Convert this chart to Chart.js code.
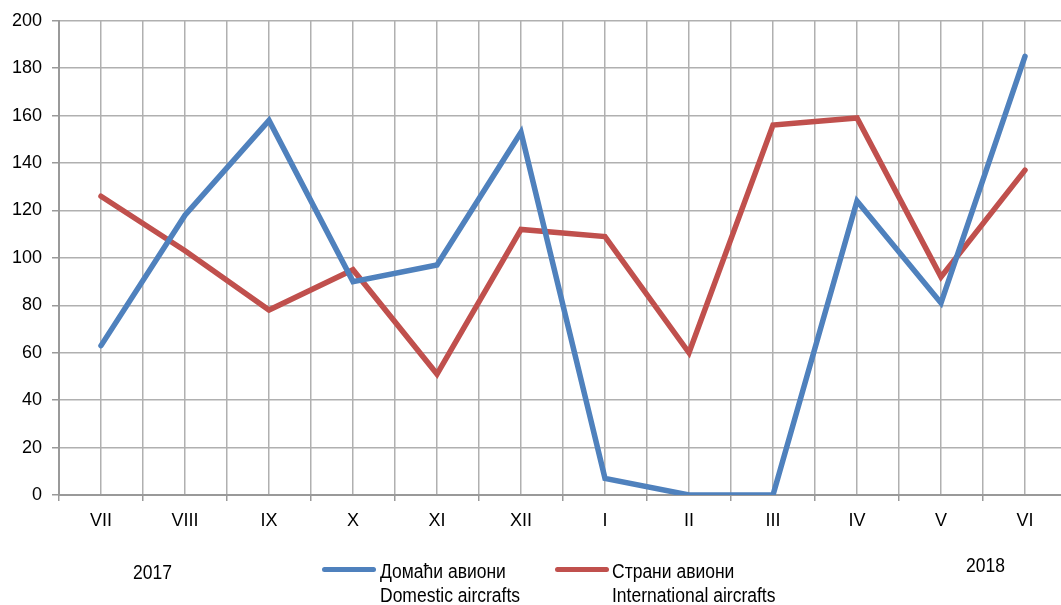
<!DOCTYPE html>
<html><head><meta charset="utf-8">
<script src="https://cdn.jsdelivr.net/npm/chart.js@4.4.0/dist/chart.umd.min.js"></script>
<style>
html,body{margin:0;padding:0;background:#fff;overflow:hidden;width:1061px;height:605px}
#wrap{position:absolute;left:0;top:0;width:1075px;height:605px}
.t{position:absolute;font-family:"Liberation Sans",Arial,sans-serif;font-size:20px;color:#000;line-height:24px;white-space:nowrap;transform:scaleX(0.875);transform-origin:0 0}
.sw{position:absolute;height:5px;border-radius:3px}
</style></head><body>
<div id="wrap"><canvas id="c" width="1075" height="605"></canvas></div>
<div class="t" style="left:133px;top:560px">2017</div>
<div class="t" style="left:966px;top:553px">2018</div>
<div class="sw" style="left:322px;top:567px;width:54px;background:#4f81bd"></div>
<div class="t" style="left:380px;top:559px">Домаћи авиони<br>Domestic aircrafts</div>
<div class="sw" style="left:555px;top:567px;width:54px;background:#c0504d"></div>
<div class="t" style="left:612px;top:559px">Страни авиони<br>International aircrafts</div>
<script>
const categories = ["VII","VIII","IX","X","XI","XII","I","II","III","IV","V","VI"];
const domestic = [63,118,158,90,97,153,7,0,0,124,81,185];
const international = [126,103,78,95,51,112,109,60,156,159,92,137];
const yTicks = [0,20,40,60,80,100,120,140,160,180,200];
const FONT = "'Liberation Sans',Arial,sans-serif";

new Chart(document.getElementById('c'), {
  type: 'line',
  data: {
    labels: categories,
    datasets: [
      {label:'Домаћи авиони / Domestic aircrafts', data: domestic, borderColor:'#4f81bd', borderWidth:5.5, pointRadius:0, tension:0, borderCapStyle:'round', borderJoinStyle:'miter', xAxisID:'x'},
      {label:'Страни авиони / International aircrafts', data: international, borderColor:'#c0504d', borderWidth:5.5, pointRadius:0, tension:0, borderCapStyle:'round', borderJoinStyle:'miter', xAxisID:'x'}
    ]
  },
  options: {
    responsive:false, animation:false,
    layout:{padding:{top:20,right:8,left:0,bottom:0}},
    plugins:{legend:{display:false}, tooltip:{enabled:false}},
    scales:{
      x:{
        type:'category', position:'bottom', offset:true,
        grid:{offset:true, color:'#b0b0b0', lineWidth:1.5, drawTicks:true, tickLength:6, tickColor:'#999'},
        border:{display:true, color:'#999', width:2},
        ticks:{color:'#000', font:{family:FONT, size:18}, padding:9, maxRotation:0, autoSkip:false},
        afterFit:(s)=>{s.height=110;}
      },
      x2:{
        type:'category', position:'bottom', offset:true, labels: categories,
        grid:{offset:false, color:'#b0b0b0', lineWidth:1.5, drawTicks:false},
        border:{display:false},
        ticks:{display:false},
        afterFit:(s)=>{s.height=0;}
      },
      y:{
        min:0, max:200,
        afterBuildTicks:(s)=>{s.ticks = yTicks.map(v=>({value:v}));},
        grid:{color:'#b0b0b0', lineWidth:1.5, drawTicks:true, tickLength:7, tickColor:'#999'},
        border:{display:true, color:'#999', width:2},
        ticks:{color:'#000', font:{family:FONT, size:18}, padding:10},
        afterFit:(s)=>{s.width=59;}
      }
    }
  }
});
</script>
</body></html>
